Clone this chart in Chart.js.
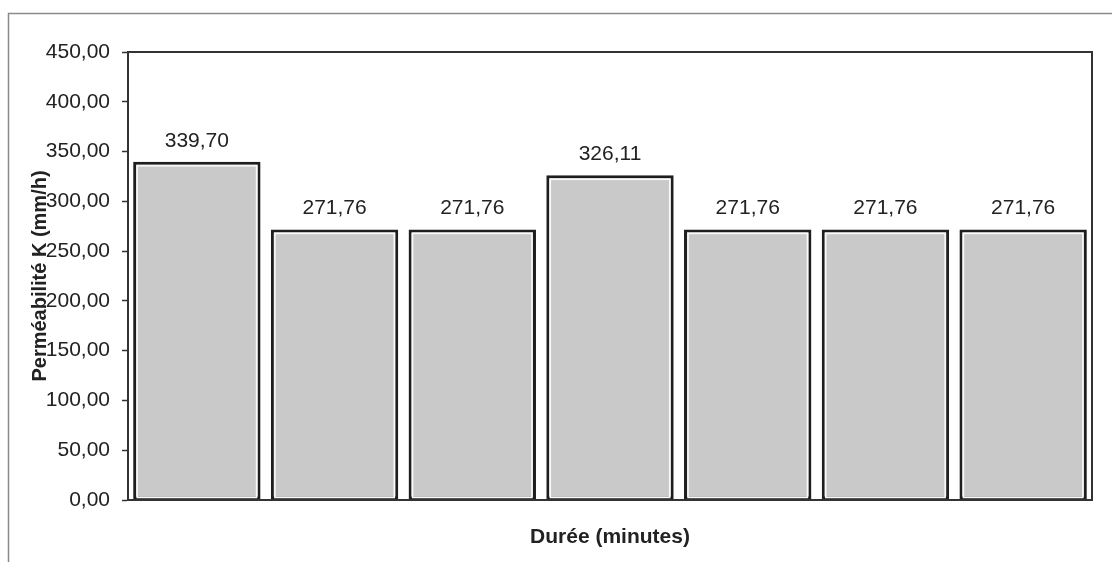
<!DOCTYPE html>
<html>
<head>
<meta charset="utf-8">
<script src="https://cdn.jsdelivr.net/npm/chart.js@4"></script>
<style>
  html, body { margin: 0; padding: 0; background: #fff; }
  #wrap { width: 1112px; height: 562px; }
</style>
</head>
<body>
<div id="wrap"><canvas id="chart" width="1112" height="562"></canvas></div>
<script>
// Durées (pas d'étiquettes affichées sur l'axe X)
const durees = ['1', '2', '3', '4', '5', '6', '7'];
// Perméabilité K (mm/h)
const permeabilite = [339.70, 271.76, 271.76, 326.11, 271.76, 271.76, 271.76];
// Graduations de l'axe Y
const yMin = 0;
const yMax = 450;
const yStep = 50;

function fr(v) {
    return v.toFixed(2).replace('.', ',');
}

const font = 'Liberation Sans, Arial, sans-serif';

// Cadre extérieur + bordure de la zone de tracé
const cadrePlugin = {
    id: 'cadre',
    beforeDraw(chart) {
        const ctx = chart.ctx;
        ctx.save();
        ctx.fillStyle = '#fff';
        ctx.fillRect(0, 0, chart.width, chart.height);
        ctx.strokeStyle = '#8a8a8a';
        ctx.lineWidth = 1.5;
        ctx.beginPath();
        ctx.moveTo(8.5, chart.height);
        ctx.lineTo(8.5, 13.5);
        ctx.lineTo(chart.width, 13.5);
        ctx.stroke();
        ctx.restore();
    },
    afterDatasetsDraw(chart) {
        const ctx = chart.ctx;
        const a = chart.chartArea;
        ctx.save();
        ctx.strokeStyle = '#333';
        ctx.lineWidth = 2;
        ctx.strokeRect(a.left, a.top, a.right - a.left, a.bottom - a.top);

        // liseré blanc intérieur des barres + étiquettes de valeurs
        const meta = chart.getDatasetMeta(0);
        ctx.font = '21px ' + font;
        ctx.textAlign = 'center';
        ctx.textBaseline = 'alphabetic';
        meta.data.forEach((bar, i) => {
            const w = bar.width;
            const l = bar.x - w / 2;
            ctx.strokeStyle = '#fafafa';
            ctx.lineWidth = 1.5;
            ctx.strokeRect(l + 4, bar.y + 4, w - 8, bar.base - bar.y - 6);
            ctx.fillStyle = '#222';
            ctx.fillText(fr(permeabilite[i]), bar.x, bar.y - 15);
        });

        // titre de l'axe Y (superposé aux graduations, comme l'original)
        ctx.save();
        ctx.translate(40, (a.top + a.bottom) / 2 + 0);
        ctx.rotate(-Math.PI / 2);
        ctx.font = 'bold 20px ' + font;
        ctx.textBaseline = 'middle';
        ctx.fillStyle = '#222';
        ctx.fillText('Perméabilité K (mm/h)', 0, 0);
        ctx.restore();
        ctx.restore();
    }
};

new Chart(document.getElementById('chart').getContext('2d'), {
    type: 'bar',
    data: {
        labels: durees,
        datasets: [{
            data: permeabilite,
            backgroundColor: '#c9c9c9',
            borderColor: '#1e1e1e',
            borderWidth: 3,
            borderSkipped: false,
            barPercentage: 0.925,
            categoryPercentage: 1.0
        }]
    },
    options: {
        responsive: false,
        animation: false,
        devicePixelRatio: 1,
        layout: {
            padding: { top: 52, right: 20, left: 0, bottom: 0 }
        },
        scales: {
            x: {
                afterFit(scale) { scale.height = 62; },
                grid: { display: false, drawTicks: false },
                border: { display: false },
                ticks: { display: false },
                title: {
                    display: true,
                    text: 'Durée (minutes)',
                    color: '#222',
                    font: { family: font, size: 21, weight: 'bold' },
                    padding: { top: 0, bottom: 12 }
                }
            },
            y: {
                min: yMin,
                max: yMax,
                afterFit(scale) { scale.width = 128; },
                grid: {
                    drawOnChartArea: false,
                    drawTicks: true,
                    tickLength: 6,
                    color: '#333',
                    tickWidth: 1.5
                },
                border: { display: true, color: '#333', width: 2 },
                ticks: {
                    stepSize: yStep,
                    padding: 12,
                    color: '#222',
                    font: { family: font, size: 21 },
                    callback: v => fr(v)
                }
            }
        },
        plugins: {
            legend: { display: false },
            tooltip: { enabled: false }
        }
    },
    plugins: [cadrePlugin]
});
</script>
</body>
</html>
